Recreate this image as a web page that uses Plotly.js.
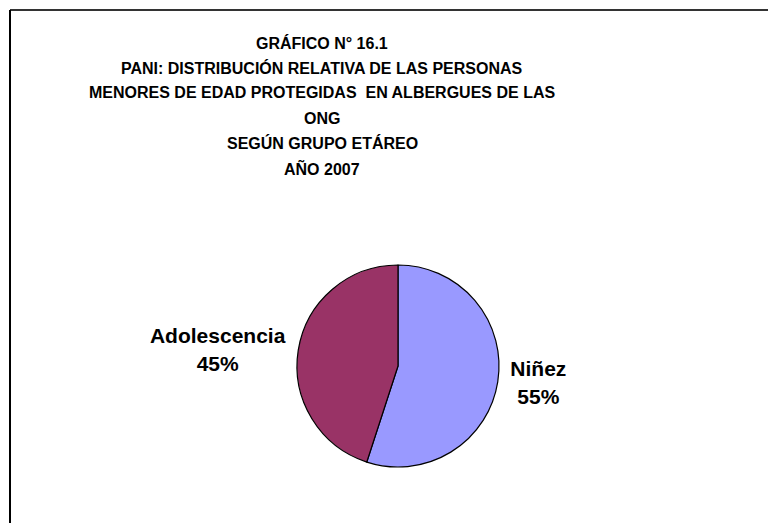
<!DOCTYPE html>
<html>
<head>
<meta charset="utf-8">
<script src="https://cdn.plot.ly/plotly-3.0.1.min.js"></script>
<style>html,body{margin:0;padding:0;background:#fff;}#chart{width:768px;height:523px;}</style>
</head>
<body>
<div id="chart"></div>
<script>
// ---- data ----
const categories = ["Niñez", "Adolescencia"];
const values = [55, 45];
const sliceColors = ["#9999FF", "#993366"];
const titleLines = [
  "GRÁFICO N° 16.1",
  "PANI: DISTRIBUCIÓN RELATIVA DE LAS PERSONAS",
  "MENORES DE EDAD PROTEGIDAS  EN ALBERGUES DE LAS",
  "ONG",
  "SEGÚN GRUPO ETÁREO",
  "AÑO 2007"
];

// ---- layout helpers ----
const W = 768, H = 523;
const FONT = "Liberation Sans, Arial, sans-serif";
const titleTop = 43, titleStep = 25, titleCx = 322;

const annotations = titleLines.map((t, i) => ({
  text: "<b>" + t + "</b>",
  xref: "paper", yref: "paper",
  x: titleCx / W, y: 1 - (titleTop + i * titleStep) / H,
  xanchor: "center", yanchor: "middle",
  showarrow: false,
  font: { family: FONT, size: 16, color: "#000" }
}));

const cx = 398, cy = 366, r = 101;

const trace = {
  type: "pie",
  labels: categories,
  values: values,
  sort: false,
  direction: "clockwise",
  rotation: 0,
  marker: { colors: sliceColors, line: { color: "#000", width: 1.2 } },
  textposition: "outside",
  texttemplate: "<b>%{label}</b><br><b>%{percent:.0%}</b>",
  textfont: { family: FONT, size: 21, color: "#000" },
  hoverinfo: "none",
  showlegend: false,
  domain: { x: [(cx - r) / W, (cx + r) / W], y: [1 - (cy + r) / H, 1 - (cy - r) / H] }
};

const layout = {
  width: W, height: H,
  margin: { l: 0, r: 0, t: 0, b: 0 },
  paper_bgcolor: "#fff",
  showlegend: false,
  annotations: annotations,
  shapes: [
    { type: "line", xref: "paper", yref: "paper", x0: 10 / W, x1: 1, y0: 1 - 10 / H, y1: 1 - 10 / H,
      line: { color: "#333", width: 2 } },
    { type: "line", xref: "paper", yref: "paper", x0: 10 / W, x1: 10 / W, y0: 0, y1: 1 - 10 / H,
      line: { color: "#000", width: 2 } }
  ]
};

Plotly.newPlot("chart", [trace], layout, { displayModeBar: false, staticPlot: true });
</script>
</body>
</html>
